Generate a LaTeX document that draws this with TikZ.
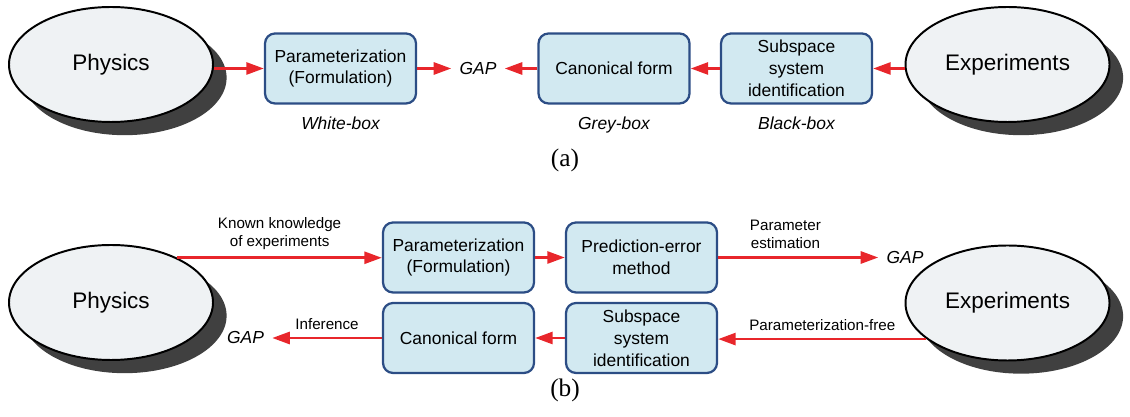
\documentclass[tikz,border=0pt]{standalone}
\usepackage{fontspec}
\setmainfont{Liberation Sans}
\newfontfamily\capfont{Liberation Serif}
\usetikzlibrary{shapes.geometric,arrows.meta}
\definecolor{boxfill}{HTML}{D2E9F1}
\definecolor{boxline}{HTML}{2C4D85}
\definecolor{ovalfill}{HTML}{EFF2F4}
\definecolor{ovalshade}{HTML}{404040}
\definecolor{arrowred}{HTML}{E8262B}

\begin{document}
\begin{tikzpicture}[
    oval/.style={ellipse,draw=black,line width=1.4pt,fill=ovalfill,minimum width=5.1cm,minimum height=2.875cm,inner sep=0pt,
        font=\fontsize{16}{19}\selectfont,
        preaction={draw=none,fill=ovalshade,transform canvas={shift={(0.34,-0.33)}}}},
    block/.style={draw=boxline,line width=1.6pt,fill=boxfill,rounded corners=0.25cm,minimum width=3.775cm,minimum height=1.75cm,
        align=center,font=\fontsize{12.4}{15.5}\selectfont},
    gap/.style={font=\fontsize{12.4}{15}\selectfont\itshape,inner xsep=0.2cm,inner ysep=0pt},
    tag/.style={font=\fontsize{12.4}{15}\selectfont\itshape,anchor=base},
    lab/.style={font=\fontsize{10.8}{12.8}\selectfont,align=center,inner sep=5pt},
    capt/.style={font=\capfont\fontsize{18}{20}\selectfont},
    flow/.style={draw=arrowred,line width=2pt,-{Triangle[length=0.44cm,width=0.3cm]}}
]
    \useasboundingbox (0,0) rectangle (28.25,10.425);
    % (a)
    \node[oval] (phys1) at (2.775,8.8125) {Physics};
    \node[block] (param1) at (8.5125,8.7125) {Parameterization\\(Formulation)};
    \node[gap] (gap1) at (11.95,8.7125) {GAP};
    \node[block] (canon1) at (15.35,8.7125) {Canonical form};
    \node[block] (subsp1) at (19.9125,8.7125) {Subspace\\system\\identification};
    \node[oval] (exper1) at (25.1875,8.8125) {Experiments};
    \node[tag] (wbox) at ([yshift=-0.63cm]param1.south) {White-box};
    \node[tag] (gbox) at ([yshift=-0.63cm]canon1.south) {Grey-box};
    \node[tag] (bbox) at ([yshift=-0.63cm]subsp1.south) {Black-box};
    \node[capt] (capa) at (14.125,6.425) {(a)};
    \draw[flow] (param1.west -| phys1.east) -- (param1.west);
    \draw[flow] (param1) -- (gap1);
    \draw[flow] (canon1) -- (gap1);
    \draw[flow] (subsp1) -- (canon1);
    \draw[flow] (subsp1.east -| exper1.west) -- (subsp1.east);
    % (b)
    \node[oval] (phys2) at (2.775,2.8625) {Physics};
    \node[block] (param2) at (11.4625,3.9875) {Parameterization\\(Formulation)};
    \node[block] (pem) at (16.0375,3.9875) {Prediction-error\\method};
    \node[gap] (gapA) at (22.625,3.9875) {GAP};
    \node[block] (canon2) at (11.4625,1.975) {Canonical form};
    \node[block] (subsp2) at (16.0375,1.975) {Subspace\\system\\identification};
    \node[gap] (gapB) at (6.1375,1.975) {GAP};
    \node[oval] (exper2) at (25.1875,2.85) {Experiments};
    \node[capt] (capb) at (14.125,0.675) {(b)};
    \draw[flow] (phys2.34) -- (phys2.34 -| param2.west) node[midway,above,lab] {Known knowledge\\of experiments};
    \draw[flow] (param2) -- (pem);
    \draw[flow] (pem) -- (gapA) node[pos=0.42,above,lab] {Parameter\\estimation};
    \draw[flow] (exper2.204) -- (exper2.204 -| subsp2.east) node[midway,above,lab] {Parameterization-free};
    \draw[flow] (subsp2) -- (canon2);
    \draw[flow] (canon2) -- (gapB) node[midway,above,lab] {Inference};
\end{tikzpicture}
\end{document}
